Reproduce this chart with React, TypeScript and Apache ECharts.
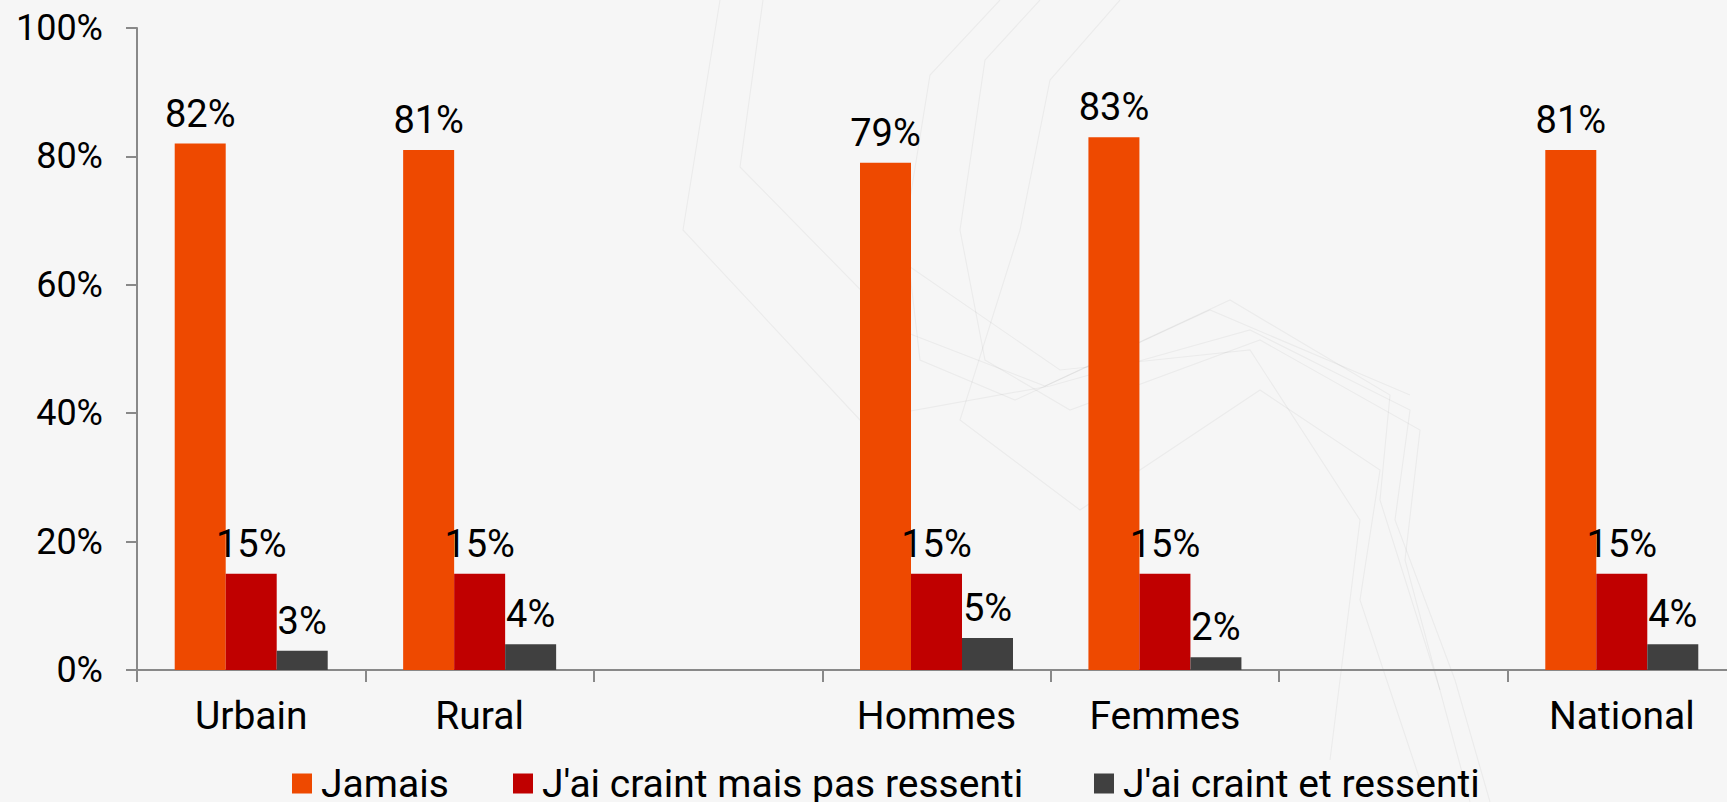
import React, { useEffect, useRef } from "react";
import * as echarts from "echarts";

const categories = ["Urbain", "Rural", " ", "Hommes", "Femmes", "  ", "National"];
const seriesNames = ["Jamais", "J'ai craint mais pas ressenti", "J'ai craint et ressenti"];
const jamais = [82, 81, null, 79, 83, null, 81];
const craintPasRessenti = [15, 15, null, 15, 15, null, 15];
const craintRessenti = [3, 4, null, 5, 2, null, 4];
const yTicks = [0, 20, 40, 60, 80, 100];
const colors = ["#EE4900", "#C00000", "#404040"];

const FONT = "Roboto";

const decoLines: number[][][] = [
  [[720, 0], [683, 230], [860, 420], [1050, 386], [1250, 330], [1410, 410], [1395, 520], [1455, 680], [1490, 802]],
  [[763, 0], [740, 167], [900, 330], [1045, 386], [1230, 300], [1390, 395], [1380, 500], [1440, 690]],
  [[1000, 0], [930, 75], [905, 230], [920, 360], [1015, 400], [1210, 310], [1410, 395]],
  [[1040, 0], [985, 60], [960, 230], [985, 360], [1070, 410], [1260, 340], [1420, 430], [1405, 560], [1470, 802]],
  [[1120, 0], [1050, 80], [1020, 230], [960, 420], [1080, 510], [1260, 390], [1380, 470], [1360, 600], [1420, 780]],
  [[900, 260], [1060, 370], [1250, 350], [1360, 520], [1330, 760]],
];

export default function App() {
  const ref = useRef<HTMLDivElement>(null);
  useEffect(() => {
    if (!ref.current) return;
    const chart = echarts.init(ref.current, undefined, { renderer: "svg" });
    const dataArrays = [jamais, craintPasRessenti, craintRessenti];
    const legendLefts = [292, 513, 1094];
    const option: any = {
      animation: false,
      backgroundColor: "#f6f6f6",
      textStyle: { fontFamily: FONT },
      graphic: decoLines.map((pts) => ({
        type: "polyline",
        silent: true,
        z: -10,
        shape: { points: pts },
        style: { stroke: "rgba(0,0,0,0.045)", lineWidth: 1.2, fill: null },
      })),
      legend: seriesNames.map((n, i) => ({
        data: [n],
        left: legendLefts[i],
        top: 764,
        padding: 0,
        itemWidth: 20,
        itemHeight: 20,
        itemGap: 0,
        icon: "rect",
        textStyle: { fontFamily: FONT, fontSize: 39, color: "#000", padding: [0, 0, 0, 4] },
        selectedMode: false,
      })),
      grid: { left: 137, top: 28, height: 642, width: 1599, containLabel: false },
      xAxis: {
        type: "category",
        data: categories,
        axisLine: { lineStyle: { color: "#898989", width: 2 } },
        axisTick: { show: true, length: 12, lineStyle: { color: "#898989", width: 2 } },
        axisLabel: { fontFamily: FONT, fontSize: 39, color: "#000", margin: 26, interval: 0 },
      },
      yAxis: {
        type: "value",
        min: yTicks[0],
        max: yTicks[yTicks.length - 1],
        interval: 20,
        splitLine: { show: false },
        axisLine: { show: true, lineStyle: { color: "#898989", width: 2 } },
        axisTick: { show: true, length: 11, lineStyle: { color: "#898989", width: 2 } },
        axisLabel: { fontFamily: FONT, fontSize: 36, color: "#000", margin: 34, formatter: "{value}%" },
      },
      series: seriesNames.map((n, i) => ({
        name: n,
        type: "bar",
        data: dataArrays[i],
        barWidth: 51,
        barGap: "0%",
        itemStyle: { color: colors[i] },
        label: {
          show: true,
          position: "top",
          distance: 11,
          fontFamily: FONT,
          fontSize: 38,
          color: "#000",
          formatter: "{c}%",
        },
      })),
    };
    chart.setOption(option);
    return () => chart.dispose();
  }, []);
  return (
    <div style={{ position: "fixed", left: 0, top: 0, width: 1727, height: 802, overflow: "hidden" }}>
      <div ref={ref} style={{ position: "absolute", left: 0, top: 0, width: 1760, height: 802 }} />
    </div>
  );
}
